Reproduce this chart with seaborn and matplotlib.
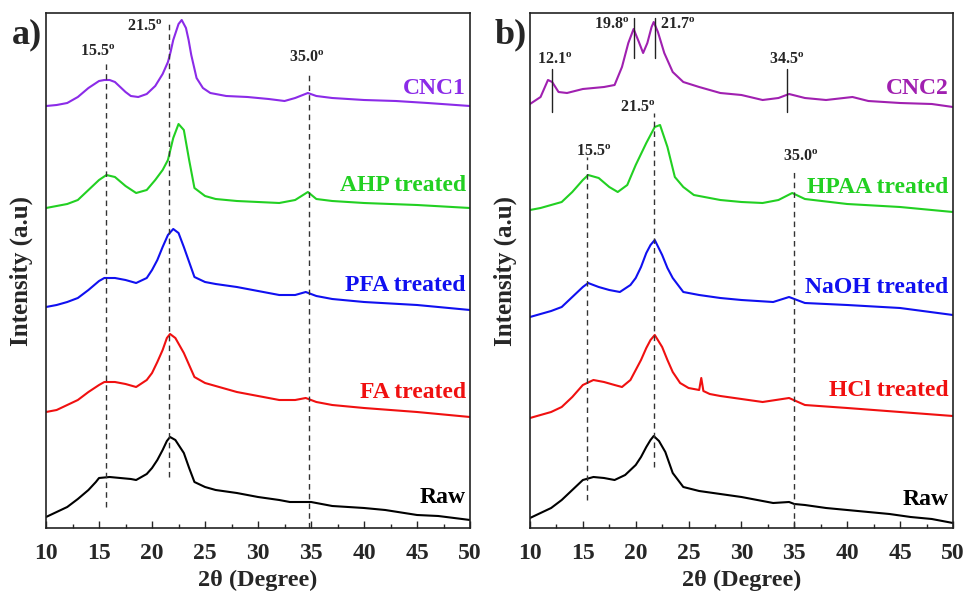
import numpy as np
import pandas as pd
import seaborn as sns
import matplotlib.pyplot as plt
from matplotlib.ticker import MultipleLocator

# ---- panel a: 2theta / intensity (a.u.) ----
cnc1_x = [10, 11, 12, 13, 14, 15, 15.5, 16, 16.5, 17, 17.5, 18, 18.7, 19.5, 20.3, 21, 21.5, 21.75, 22, 22.5,
          22.8, 23.2, 23.45, 23.7, 24.2, 24.8, 25.5, 27, 29, 31, 32.5, 33.5, 34.7, 35.5, 37, 40, 43, 46, 50]
cnc1_y = [422, 423, 425, 431, 440, 447, 448, 448, 446, 441, 436, 432, 431, 434, 442, 454, 466, 476, 488, 504,
          508, 500, 488, 473, 450, 440, 435, 432, 431, 429, 427, 430, 435, 432, 430, 428, 427, 425, 422]

ahp_x = [10, 11, 12, 13, 14, 15, 15.7, 16.5, 17.5, 18.5, 19.5, 20.3, 21, 21.5, 22, 22.5, 23, 23.5, 24, 25,
         26, 28, 30, 32, 33.5, 34.7, 35.5, 37, 40, 45, 50]
ahp_y = [320, 322, 324, 328, 338, 348, 353, 351, 342, 335, 338, 348, 358, 368, 390, 404, 398, 368, 340, 332,
         329, 327, 326, 325, 328, 336, 329, 327, 325, 323, 320]

pfa_x = [10, 11, 12, 13, 14, 15, 15.5, 16.5, 17.5, 18.5, 19.5, 20, 20.5, 21, 21.5, 22, 22.5, 23, 23.5, 24,
         25, 26, 28, 30, 32, 33.5, 34.5, 35.5, 37, 40, 45, 50]
pfa_y = [221, 223, 226, 230, 238, 247, 250, 250, 248, 245, 250, 258, 268, 281, 293, 299, 295, 281, 266, 251,
         246, 244, 241, 237, 233, 233, 236, 232, 229, 226, 223, 218]

fa_x = [10, 11, 12, 13, 14, 15, 15.5, 16.5, 17.5, 18.5, 19.5, 20, 20.5, 21, 21.4, 21.7, 22.2, 23, 23.5, 24,
        25, 26, 28, 30, 32, 33.5, 34.5, 35.5, 37, 40, 45, 50]
fa_y = [116, 118, 123, 128, 136, 143, 146, 146, 144, 141, 148, 155, 166, 178, 190, 194, 190, 175, 163, 151,
        145, 142, 136, 132, 128, 128, 130, 126, 123, 120, 116, 111]

raw_a_x = [10, 11, 12, 13, 14, 14.7, 15, 16, 17, 18, 18.5, 19.5, 20, 20.5, 21, 21.4, 21.7, 22.2, 23, 23.5,
           24, 25, 26, 28, 30, 32, 33, 34.5, 35, 36, 37, 40, 42, 45, 47, 50]
raw_a_y = [11, 16, 21, 29, 38, 46, 50, 51, 50, 49, 48, 54, 60, 68, 78, 87, 91, 88, 75, 60,
           46, 41, 38, 35, 31, 28, 26, 26, 26, 24, 22, 20, 18, 13, 12, 8]

# ---- panel b ----
cnc2_x = [10, 11, 11.7, 12.1, 12.7, 13.5, 15, 17, 18, 18.7, 19.3, 19.8, 20.3, 20.7, 21.1, 21.5, 21.7, 22.1,
          22.7, 23.5, 24.5, 26, 28, 30, 32, 33.5, 34.5, 36, 38, 40.5, 42, 45, 48, 50]
cnc2_y = [424, 431, 448, 446, 436, 435, 439, 441, 443, 461, 485, 499, 486, 475, 485, 501, 506, 496,
          475, 456, 446, 441, 435, 433, 428, 430, 434, 430, 428, 431, 427, 425, 424, 421]

hpaa_x = [10, 11, 12, 13, 14, 15, 15.5, 16.5, 17.5, 18.3, 19.2, 20, 21, 21.8, 22.3, 23, 23.7, 24.5, 25.5,
          28, 30, 32, 33.5, 34.8, 36, 40, 45, 50]
hpaa_y = [318, 320, 323, 326, 336, 348, 353, 350, 341, 336, 343, 363, 385, 401, 403, 381, 351, 341, 333,
          328, 326, 325, 328, 335, 329, 324, 321, 316]

naoh_x = [10, 11, 12, 13, 14, 15, 15.5, 16.5, 17.5, 18.5, 19.5, 20, 20.5, 21, 21.4, 21.8, 22.5, 23, 23.5,
          24.5, 26, 28, 30, 33, 34.5, 36, 40, 45, 50]
naoh_y = [211, 214, 217, 221, 231, 241, 245, 241, 238, 236, 243, 250, 261, 275, 283, 288, 273, 260, 250,
          236, 233, 230, 228, 226, 231, 225, 223, 220, 213]

hcl_x = [10, 11, 12, 13, 14, 15, 16, 17, 18, 18.7, 19.5, 20, 20.5, 21, 21.4, 21.8, 22.5, 23, 23.5, 24.2,
         25, 26, 26.2, 26.4, 27, 28, 30, 32, 34.5, 36, 40, 45, 50]
hcl_y = [110, 113, 116, 121, 131, 143, 148, 146, 143, 141, 148, 158, 168, 180, 188, 193, 181, 168, 156, 145,
         140, 138, 150, 137, 134, 132, 129, 126, 130, 123, 120, 116, 112]

raw_b_x = [10, 11, 12, 13, 14, 14.7, 15, 16, 17, 18, 19, 20, 20.5, 21, 21.4, 21.7, 22.2, 22.8, 23.5, 24.5,
           26, 28, 30, 33, 34.5, 35, 36, 38, 42, 44, 46, 48, 50]
raw_b_y = [10, 15, 20, 28, 38, 45, 48, 51, 50, 48, 53, 63, 71, 81, 88, 92, 87, 76, 55, 41,
           37, 34, 31, 25, 26, 24, 23, 20, 16, 14, 11, 9, 5]

labels_a = ["CNC1", "AHP treated", "PFA treated", "FA treated", "Raw"]
labels_b = ["CNC2", "HPAA treated", "NaOH treated", "HCl treated", "Raw"]
label_y_a = [440, 343, 243, 136, 30]
label_y_b = [440, 341, 241, 138, 28]
colors_a = ["#8B2BE8", "#22D022", "#1010F0", "#F01010", "#000000"]
colors_b = ["#A020B0", "#22D022", "#1010F0", "#F01010", "#000000"]

# peak marks: (2theta, from, to) in intensity units, and their labels
dash_a = [(15.7, 21, 466), (21.6, 51, 506), (34.8, 0, 454)]
dash_b = [(15.4, 28, 371), (21.7, 61, 415), (35.0, 0, 358)]
solid_b = [(12.1, 416, 459), (19.8, 470, 510), (21.8, 470, 510), (34.3, 416, 459)]
peak_txt_a = [("15.5", 14.9, 476), ("21.5", 19.3, 501), ("35.0", 34.6, 470)]
peak_txt_b = [("12.1", 12.3, 468), ("19.8", 17.7, 503), ("21.7", 24.0, 503), ("34.5", 34.3, 468),
              ("21.5", 20.2, 420), ("15.5", 16.0, 376), ("35.0", 35.6, 371)]

sns.set_style("ticks")
plt.rcParams['font.family'] = ['Liberation Serif', 'DejaVu Serif']
plt.rcParams['font.weight'] = 'bold'
plt.rcParams['mathtext.fontset'] = 'custom'
plt.rcParams['mathtext.rm'] = 'Liberation Serif:bold'
plt.rcParams['mathtext.it'] = 'Liberation Serif:bold'
plt.rcParams['mathtext.bf'] = 'Liberation Serif:bold'

fig = plt.figure(figsize=(9.65, 5.91), dpi=100)
ax_a = fig.add_axes([0.0477, 0.1066, 0.4394, 0.8714])
ax_b = fig.add_axes([0.5492, 0.1066, 0.4383, 0.8714])

curves_a = [(cnc1_x, cnc1_y), (ahp_x, ahp_y), (pfa_x, pfa_y), (fa_x, fa_y), (raw_a_x, raw_a_y)]
curves_b = [(cnc2_x, cnc2_y), (hpaa_x, hpaa_y), (naoh_x, naoh_y), (hcl_x, hcl_y), (raw_b_x, raw_b_y)]


def draw_panel(ax, curves, labels, label_y, colors, dashes, texts, solids=()):
    for (x, y), lab, ly, c in zip(curves, labels, label_y, colors):
        df = pd.DataFrame({"two_theta": x, "intensity": y})
        sns.lineplot(data=df, x="two_theta", y="intensity", ax=ax, color=c, lw=1.5, sort=False)
        ax.text(49.6, ly, lab, color=c, fontsize=17, fontweight='bold', ha='right', va='center')
    for xv, y0, y1 in dashes:
        ax.plot([xv, xv], [y0, y1], ls=(0, (4, 3)), color='#333333', lw=1.0)
    for xv, y0, y1 in solids:
        ax.plot([xv, xv], [y0, y1], color='#222222', lw=1.0)
    for t, xv, yv in texts:
        ax.text(xv, yv, t + r"$^\mathregular{o}$", fontsize=11.5, fontweight='bold', ha='center', va='center')
    ax.set_xlim(10, 50)
    ax.set_ylim(0, 515)
    ax.set_yticks([])
    ax.xaxis.set_major_locator(MultipleLocator(5))
    ax.xaxis.set_minor_locator(MultipleLocator(2.5))
    ax.tick_params(axis='x', which='both', direction='in', labelsize=17, width=1.0, pad=11)
    ax.tick_params(axis='x', which='major', length=5)
    ax.tick_params(axis='x', which='minor', length=3)
    for lbl in ax.get_xticklabels():
        lbl.set_fontweight('bold')
    ax.set_xlabel("2θ (Degree)", fontsize=17.5, fontweight='bold', labelpad=4)
    ax.set_ylabel("Intensity (a.u)", fontsize=18, fontweight='bold')
    ax.yaxis.set_label_coords(-0.03, 0.5)
    for s in ax.spines.values():
        s.set_linewidth(1.2)
        s.set_color('#222222')


draw_panel(ax_a, curves_a, labels_a, label_y_a, colors_a, dash_a, peak_txt_a)
draw_panel(ax_b, curves_b, labels_b, label_y_b, colors_b, dash_b, peak_txt_b, solid_b)

fig.text(0.012, 0.941, "a)", fontsize=26, fontweight='bold', va='center')
fig.text(0.513, 0.941, "b)", fontsize=26, fontweight='bold', va='center')

fig.savefig("out.png", dpi=100)
